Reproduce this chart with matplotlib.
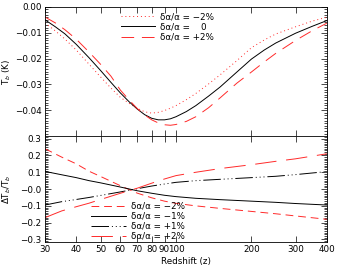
import numpy as np
import matplotlib
matplotlib.use('Agg')
import matplotlib.pyplot as plt
from matplotlib.ticker import FixedLocator, MultipleLocator, NullLocator

plt.rcParams['font.family'] = 'DejaVu Sans'
plt.rcParams['font.size'] = 6.3

# panel superior: temperatura de brillo Tb (K) vs redshift
z_top = [30, 33, 36, 40, 45, 50, 55, 60, 65, 70, 75, 80, 85, 90, 95, 100,
         110, 120, 135, 150, 175, 200, 225, 250, 300, 350, 400]
tb_m2 = [-0.0062, -0.0093, -0.0124, -0.0167, -0.0222, -0.0271, -0.0314, -0.0350,
         -0.0373, -0.0392, -0.0406, -0.0411, -0.0408, -0.0401, -0.0392, -0.0382,
         -0.0359, -0.0335, -0.0298, -0.0263, -0.0208, -0.0158, -0.0128, -0.0105,
         -0.0077, -0.0055, -0.0040]
tb_0 = [-0.0050, -0.0077, -0.0104, -0.0145, -0.0197, -0.0246, -0.0292, -0.0333,
        -0.0367, -0.0395, -0.0417, -0.0431, -0.0437, -0.0437, -0.0433, -0.0425,
        -0.0405, -0.0382, -0.0345, -0.0310, -0.0252, -0.0202, -0.0167, -0.0140,
        -0.0102, -0.0075, -0.0053]
tb_p2 = [-0.0039, -0.0062, -0.0088, -0.0125, -0.0175, -0.0222, -0.0268, -0.0322,
         -0.0360, -0.0393, -0.0418, -0.0437, -0.0449, -0.0456, -0.0458, -0.0455,
         -0.0443, -0.0425, -0.0390, -0.0352, -0.0295, -0.0252, -0.0213, -0.0180,
         -0.0130, -0.0092, -0.0063]

# panel inferior: cambio relativo dTb/Tb
z_bot = [30, 35, 40, 45, 50, 60, 70, 80, 90, 100, 120, 150, 200, 250, 300, 400]
r_m2 = [0.24, 0.19, 0.15, 0.106, 0.075, 0.02, -0.024, -0.052, -0.072, -0.085,
        -0.10, -0.115, -0.133, -0.147, -0.160, -0.18]
r_m1 = [0.105, 0.085, 0.068, 0.05, 0.037, 0.012, -0.01, -0.025, -0.037, -0.045,
        -0.055, -0.063, -0.072, -0.079, -0.086, -0.095]
r_p1 = [-0.095, -0.075, -0.062, -0.05, -0.038, -0.017, 0.002, 0.018, 0.03, 0.04,
        0.05, 0.058, 0.068, 0.076, 0.086, 0.104]
r_p2 = [-0.17, -0.13, -0.105, -0.084, -0.062, -0.025, 0.005, 0.035, 0.06, 0.08,
        0.10, 0.122, 0.145, 0.165, 0.18, 0.21]

xticks = [30, 40, 50, 60, 70, 80, 90, 100, 200, 300, 400]
red = '#ff2a2a'

fig = plt.figure(figsize=(3.38, 2.75), dpi=100)
ax1 = fig.add_axes([0.133, 0.505, 0.834, 0.470])
ax2 = fig.add_axes([0.133, 0.120, 0.834, 0.385])

lw = 0.7
ax1.plot(z_top, tb_m2, color=red, lw=lw, dashes=(1, 3), label='δα/α = −2%')
ax1.plot(z_top, tb_0, color='k', lw=lw, label='δα/α =    0')
ax1.plot(z_top, tb_p2, color=red, lw=lw, dashes=(13, 8), label='δα/α = +2%')

ax2.plot(z_bot, r_m2, color=red, lw=lw, dashes=(8, 5), label='δα/α = −2%')
ax2.plot(z_bot, r_m1, color='k', lw=lw, label='δα/α = −1%')
ax2.plot(z_bot, r_p1, color='k', lw=lw, dashes=(18, 3, 1, 3, 1, 3, 1, 3), label='δα/α = +1%')
ax2.plot(z_bot, r_p2, color=red, lw=lw, dashes=(22, 10), label='δα/α = +2%')

for ax in (ax1, ax2):
    ax.set_xscale('log')
    ax.set_xlim(30, 400)
    ax.xaxis.set_major_locator(FixedLocator(xticks))
    ax.xaxis.set_minor_locator(NullLocator())
    ax.tick_params(which='both', direction='in', top=True, right=True, width=0.5, pad=2.5)
    ax.tick_params(which='major', length=4)
    ax.tick_params(which='minor', length=2)
    for s in ax.spines.values():
        s.set_linewidth(0.6)

ax1.set_ylim(-0.05, 0.0)
ax1.yaxis.set_major_locator(FixedLocator([0.0, -0.01, -0.02, -0.03, -0.04]))
ax1.yaxis.set_minor_locator(MultipleLocator(0.001))
ax1.set_yticklabels(['0.00', '−0.01', '−0.02', '−0.03', '−0.04'])
ax1.set_xticklabels([])
ax1.set_ylabel('T$_b$ (K)')
ax1.yaxis.set_label_coords(-0.115, 0.5)

ax2.set_ylim(-0.315, 0.315)
ax2.yaxis.set_major_locator(FixedLocator([0.3, 0.2, 0.1, 0.0, -0.1, -0.2, -0.3]))
ax2.yaxis.set_minor_locator(MultipleLocator(0.01))
ax2.set_yticklabels(['0.3', '0.2', '0.1', '−0.0', '−0.1', '−0.2', '−0.3'])
ax2.set_xticklabels([str(t) for t in xticks])
ax2.set_ylabel('ΔT$_b$/T$_b$')
ax2.yaxis.set_label_coords(-0.115, 0.5)
ax2.set_xlabel('Redshift (z)', labelpad=2)

ax1.legend(loc='upper left', bbox_to_anchor=(0.27, 0.96), frameon=False,
           handlelength=3.9, handletextpad=0.6, labelspacing=0.15,
           borderpad=0, borderaxespad=0, fontsize=6.3)
ax2.legend(loc='lower left', bbox_to_anchor=(0.165, 0.01), frameon=False,
           handlelength=4.0, handletextpad=0.5, labelspacing=0.12,
           borderpad=0, borderaxespad=0, fontsize=6.3)

fig.savefig('out.png', dpi=100)
